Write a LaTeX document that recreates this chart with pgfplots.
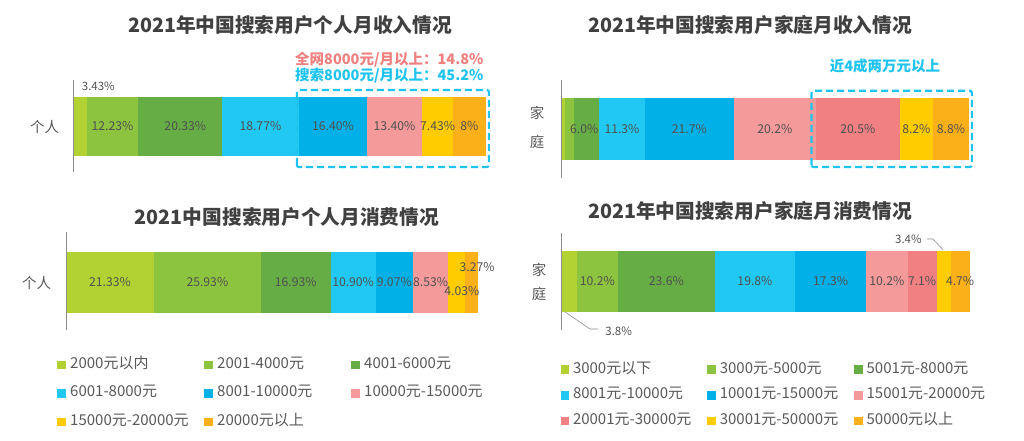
\documentclass[border=0pt]{standalone}
\usepackage{fontspec}
\setmainfont{Noto Sans CJK SC}
\usepackage{pgfplots}
\pgfplotsset{compat=1.18}
\definecolor{c1}{HTML}{B2D234}
\definecolor{c2}{HTML}{8DC43F}
\definecolor{c3}{HTML}{66AD45}
\definecolor{c4}{HTML}{20C8F2}
\definecolor{c5}{HTML}{00B0E6}
\definecolor{c6}{HTML}{F49A9A}
\definecolor{c7}{HTML}{F08082}
\definecolor{c8}{HTML}{FFCC00}
\definecolor{c9}{HTML}{FAB018}
\definecolor{titlegray}{HTML}{404040}
\definecolor{labgray}{HTML}{505050}
\definecolor{txtgray}{HTML}{595959}
\definecolor{axgray}{HTML}{8C8C8C}
\definecolor{boxcyan}{HTML}{1FC3EF}
\definecolor{annpink}{HTML}{F08080}
\tikzset{lab/.style={font=\fontsize{12.2}{13}\selectfont, text=labgray},
  slab/.style={font=\fontsize{11.5}{12}\selectfont, text=labgray}}
\pgfplotsset{
  panel/.style={
    xbar stacked, scale only axis, clip=false,
    xmin=0, xmax=100, enlargelimits=false,
    axis line style={draw=none}, ticks=none,
    every axis plot/.append style={draw=none},
    legend image code/.code={\fill[##1,draw=none] (0pt,-4.2pt) rectangle (8.5pt,4.2pt);},
  },
  over/.style={scale only axis, clip=false, xmin=0, xmax=100,
    enlargelimits=false, hide axis},
}
\begin{document}
\begin{tikzpicture}
\useasboundingbox (0,0) rectangle (1024pt,-441pt);
% ---------- titles ----------
\node[font=\fontsize{19.7}{21}\selectfont\bfseries, text=titlegray] at (290pt,-25pt) {2021年中国搜索用户个人月收入情况};
\node[font=\fontsize{19.7}{21}\selectfont\bfseries, text=titlegray] at (750pt,-25pt) {2021年中国搜索用户家庭月收入情况};
\node[font=\fontsize{19.7}{21}\selectfont\bfseries, text=titlegray] at (287pt,-217pt) {2021中国搜索用户个人月消费情况};
\node[font=\fontsize{19.7}{21}\selectfont\bfseries, text=titlegray] at (750pt,-211pt) {2021年中国搜索用户家庭月消费情况};
% ---------- side labels ----------
\node[font=\fontsize{14.5}{15}\selectfont, text=txtgray] at (44.5pt,-127pt) {个人};
\node[font=\fontsize{14.5}{15}\selectfont, text=txtgray] at (537pt,-113pt) {家};
\node[font=\fontsize{14.5}{15}\selectfont, text=txtgray] at (537pt,-142pt) {庭};
\node[font=\fontsize{14.5}{15}\selectfont, text=txtgray] at (36.7pt,-283pt) {个人};
\node[font=\fontsize{14.5}{15}\selectfont, text=txtgray] at (539pt,-270pt) {家};
\node[font=\fontsize{14.5}{15}\selectfont, text=txtgray] at (539pt,-294pt) {庭};
% ---------- annotations ----------
\node[font=\fontsize{14.5}{15}\selectfont\bfseries, text=annpink, anchor=east] at (487pt,-60pt) {全网8000元/月以上：14.8\%};
\node[font=\fontsize{14.5}{15}\selectfont\bfseries, text=boxcyan, anchor=east] at (487pt,-76pt) {搜索8000元/月以上：45.2\%};
\node[font=\fontsize{14.5}{15}\selectfont\bfseries, text=boxcyan] at (885pt,-66pt) {近4成两万元以上};

% ================= Panel 1 =================
\begin{axis}[panel, at={(73pt,-172pt)}, anchor=south west,
  width=413pt, height=92pt, ymin=-45.5, ymax=46.5, bar width=59pt]
\addplot[fill=c1] coordinates {(3.43,0)};
\addplot[fill=c2] coordinates {(12.23,0)};
\addplot[fill=c3] coordinates {(20.33,0)};
\addplot[fill=c4] coordinates {(18.77,0)};
\addplot[fill=c5] coordinates {(16.40,0)};
\addplot[fill=c6] coordinates {(13.40,0)};
\addplot[fill=c8] coordinates {(7.43,0)};
\addplot[fill=c9] coordinates {(8,0)};
\end{axis}
\begin{axis}[over, at={(73pt,-172pt)}, anchor=south west,
  width=413pt, height=92pt, ymin=-45.5, ymax=46.5]
\draw[axgray, line width=0.8pt] (rel axis cs:0,0) -- (rel axis cs:0,1);
\node[slab, anchor=west] at (axis cs:1.3,40.5) {3.43\%};
\node[lab] at (axis cs:9.545,0) {12.23\%};
\node[lab] at (axis cs:27.2,0) {20.33\%};
\node[lab] at (axis cs:45.375,0) {18.77\%};
\node[lab] at (axis cs:62.96,0) {16.40\%};
\node[lab] at (axis cs:77.86,0) {13.40\%};
\node[lab] at (axis cs:88.275,0) {7.43\%};
\node[lab] at (axis cs:95.99,0) {8\%};
\draw[boxcyan, line width=2.2pt, dash pattern=on 7pt off 4pt, rounded corners=2pt]
  (axis cs:54.2,-40.5) rectangle (axis cs:100.7,36.5);
\end{axis}

% ================= Panel 2 =================
\begin{axis}[panel, at={(561pt,-178pt)}, anchor=south west,
  width=408pt, height=98pt, ymin=-49, ymax=49, bar width=62pt]
\addplot[fill=c1] coordinates {(1.0,0)};
\addplot[fill=c2] coordinates {(2.3,0)};
\addplot[fill=c3] coordinates {(6.0,0)};
\addplot[fill=c4] coordinates {(11.3,0)};
\addplot[fill=c5] coordinates {(21.7,0)};
\addplot[fill=c6] coordinates {(20.2,0)};
\addplot[fill=c7] coordinates {(20.5,0)};
\addplot[fill=c8] coordinates {(8.2,0)};
\addplot[fill=c9] coordinates {(8.8,0)};
\end{axis}
\begin{axis}[over, at={(561pt,-178pt)}, anchor=south west,
  width=408pt, height=98pt, ymin=-49, ymax=49]
\draw[axgray, line width=0.8pt] (rel axis cs:0,0) -- (rel axis cs:0,1);
\node[lab] at (axis cs:5.7,0) {6.0\%};
\node[lab] at (axis cs:14.95,0) {11.3\%};
\node[lab] at (axis cs:31.45,0) {21.7\%};
\node[lab] at (axis cs:52.4,0) {20.2\%};
\node[lab] at (axis cs:72.75,0) {20.5\%};
\node[lab] at (axis cs:87.1,0) {8.2\%};
\node[lab] at (axis cs:95.6,0) {8.8\%};
\draw[boxcyan, line width=2.2pt, dash pattern=on 7pt off 4pt, rounded corners=2pt]
  (axis cs:61.4,-38) rectangle (axis cs:100.7,38.3);
\end{axis}

% ================= Panel 3 =================
\begin{axis}[panel, at={(66pt,-330pt)}, anchor=south west,
  width=412.3pt, height=98pt, ymin=-47.5, ymax=50.5, bar width=61pt,
  legend columns=3,
  legend style={at={(-0.0218,-0.287)}, anchor=north west, draw=none, fill=none,
    inner sep=0pt, row sep=15.5pt,
    /tikz/every odd column/.append style={column sep=4.5pt},
    nodes={font=\fontsize{15}{16}\selectfont, text=txtgray, text width=134pt,
      align=left, inner xsep=0pt, inner ysep=0pt, text height=10pt, text depth=3pt}},
  legend cell align=left]
\addplot[fill=c1] coordinates {(21.33,0)};
\addplot[fill=c2] coordinates {(25.93,0)};
\addplot[fill=c3] coordinates {(16.93,0)};
\addplot[fill=c4] coordinates {(10.90,0)};
\addplot[fill=c5] coordinates {(9.07,0)};
\addplot[fill=c6] coordinates {(8.53,0)};
\addplot[fill=c8] coordinates {(4.03,0)};
\addplot[fill=c9] coordinates {(3.27,0)};
\legend{2000元以内,2001-4000元,4001-6000元,6001-8000元,8001-10000元,10000元-15000元,15000元-20000元,20000元以上}
\end{axis}
\begin{axis}[over, at={(66pt,-330pt)}, anchor=south west,
  width=412.3pt, height=98pt, ymin=-47.5, ymax=50.5]
\draw[axgray, line width=0.8pt] (rel axis cs:0,0) -- (rel axis cs:0,1);
\node[lab] at (axis cs:10.665,0) {21.33\%};
\node[lab] at (axis cs:34.295,0) {25.93\%};
\node[lab] at (axis cs:55.725,0) {16.93\%};
\node[lab] at (axis cs:69.64,0) {10.90\%};
\node[lab] at (axis cs:79.625,0) {9.07\%};
\node[lab] at (axis cs:88.425,0) {8.53\%};
\node[lab] at (axis cs:96.0,-8.5) {4.03\%};
\node[lab] at (axis cs:99.7,15.5) {3.27\%};
\end{axis}

% ================= Panel 4 =================
\begin{axis}[panel, at={(561pt,-330pt)}, anchor=south west,
  width=408.7pt, height=97pt, xmax=100.1, ymin=-48.8, ymax=48.2, bar width=61pt,
  legend columns=3,
  legend style={at={(-0.0017,-0.34)}, anchor=north west, draw=none, fill=none,
    inner sep=0pt, row sep=12.7pt,
    /tikz/every odd column/.append style={column sep=4pt},
    nodes={font=\fontsize{15}{16}\selectfont, text=txtgray, text width=134.3pt,
      align=left, inner xsep=0pt, inner ysep=0pt, text height=10pt, text depth=3pt}},
  legend cell align=left]
\addplot[fill=c1] coordinates {(3.8,0)};
\addplot[fill=c2] coordinates {(10.2,0)};
\addplot[fill=c3] coordinates {(23.6,0)};
\addplot[fill=c4] coordinates {(19.8,0)};
\addplot[fill=c5] coordinates {(17.3,0)};
\addplot[fill=c6] coordinates {(10.2,0)};
\addplot[fill=c7] coordinates {(7.1,0)};
\addplot[fill=c8] coordinates {(3.4,0)};
\addplot[fill=c9] coordinates {(4.7,0)};
\legend{3000元以下,3000元-5000元,5001元-8000元,8001元-10000元,10001元-15000元,15001元-20000元,20001元-30000元,30001元-50000元,50000元以上}
\end{axis}
\begin{axis}[over, at={(561pt,-330pt)}, anchor=south west,
  width=408.7pt, height=97pt, xmax=100.1, ymin=-48.8, ymax=48.2]
\draw[axgray, line width=0.8pt] (rel axis cs:0,0) -- (rel axis cs:0,1);
\node[lab] at (axis cs:8.9,0) {10.2\%};
\node[lab] at (axis cs:25.8,0) {23.6\%};
\node[lab] at (axis cs:47.5,0) {19.8\%};
\node[lab] at (axis cs:66.05,0) {17.3\%};
\node[lab] at (axis cs:79.8,0) {10.2\%};
\node[lab] at (axis cs:88.45,0) {7.1\%};
\node[lab] at (axis cs:97.75,0) {4.7\%};
\node[slab, anchor=east] at (axis cs:89.2,42.2) {3.4\%};
\draw[axgray, line width=0.6pt] (axis cs:89.6,42.2) -- (axis cs:91.1,42.2) -- (axis cs:93.6,31.2);
\node[slab, anchor=west] at (axis cs:10.0,-49.8) {3.8\%};
\draw[axgray, line width=0.6pt] (axis cs:1.0,-30.8) -- (axis cs:7.1,-47.8) -- (axis cs:9.1,-47.8);
\end{axis}
\end{tikzpicture}
\end{document}
